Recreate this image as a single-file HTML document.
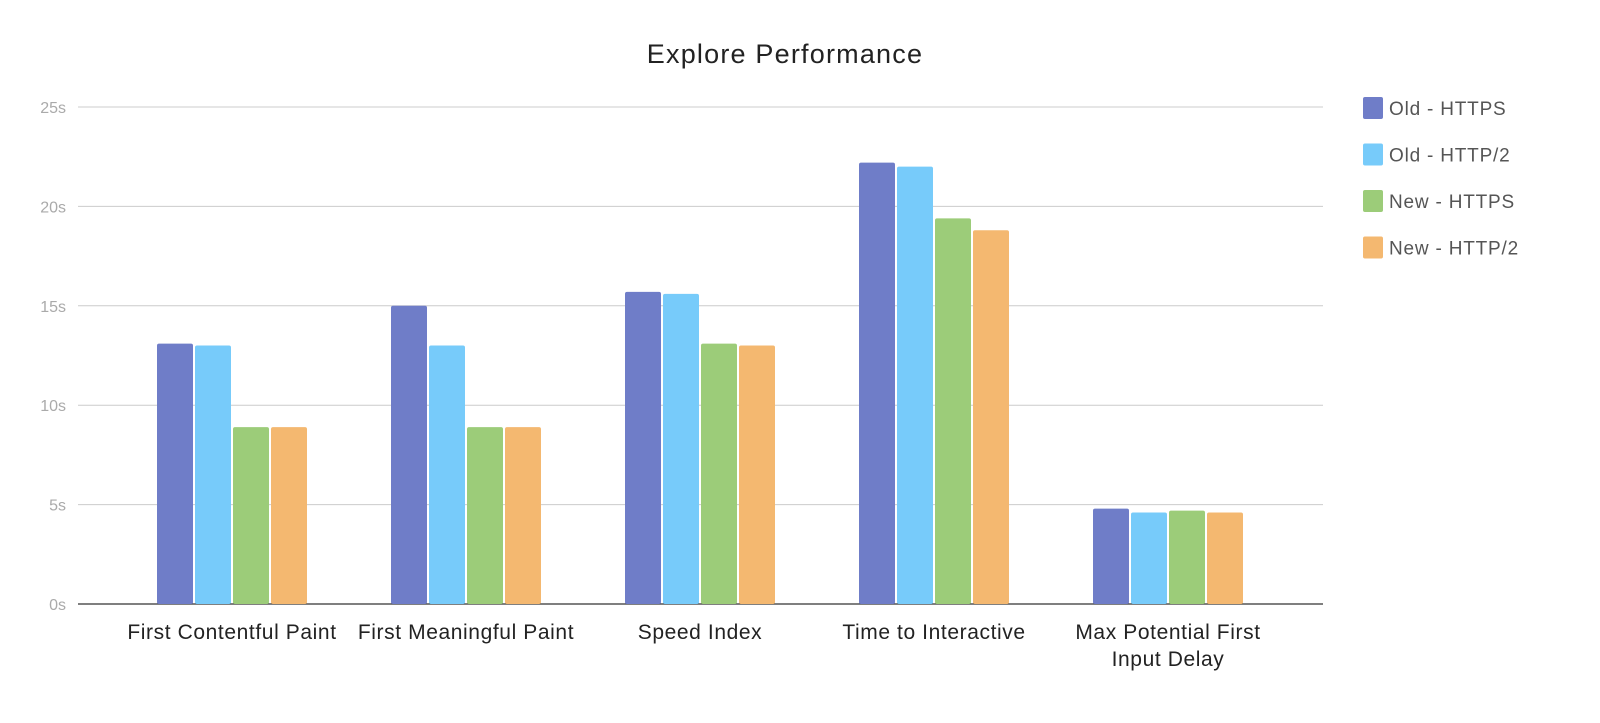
<!DOCTYPE html>
<html><head><meta charset="utf-8"><style>
html,body{margin:0;padding:0;background:#fff;}
svg{display:block;font-family:"Liberation Sans",Arial,sans-serif;}
</style></head><body>
<svg id="chart" width="1600" height="723">
<text x="785" y="63" text-anchor="middle" font-size="27" letter-spacing="1.2" fill="#222">Explore Performance</text>
<g id="grid"></g><g id="bars"></g><g id="xlabels"></g><g id="legend"></g>
</svg>
<script>
const categories=[["First Contentful Paint"],["First Meaningful Paint"],["Speed Index"],["Time to Interactive"],["Max Potential First","Input Delay"]];
const seriesNames=["Old - HTTPS","Old - HTTP/2","New - HTTPS","New - HTTP/2"];
const oldHttps=[13.1,15.0,15.7,22.2,4.8];
const oldHttp2=[13.0,13.0,15.6,22.0,4.6];
const newHttps=[8.9,8.9,13.1,19.4,4.7];
const newHttp2=[8.9,8.9,13.0,18.8,4.6];
const yTicks=[0,5,10,15,20,25];
const series=[oldHttps,oldHttp2,newHttps,newHttp2];
const colors=["#6f7dc8","#77cbfa","#9ccc79","#f4b870"];
const NS="http://www.w3.org/2000/svg";
const y0=604,y25=107,xL=78,xR=1323;
const yScale=v=>y0-(v/25)*(y0-y25);
const gc=i=>232+i*234;
function mk(t,a,p){const e=document.createElementNS(NS,t);for(const k in a)e.setAttribute(k,a[k]);p.appendChild(e);return e;}
const grid=document.getElementById('grid');
yTicks.forEach(v=>{
 const l=mk('line',{x1:xL,x2:xR,y1:yScale(v),y2:yScale(v),stroke:v===0?'#333':'#ccc','stroke-width':v===0?1.3:1},grid);
 
 
 const t=mk('text',{x:66,y:yScale(v)+6,'text-anchor':'end','font-size':16,fill:'#aaa'},grid);
 t.textContent=v+'s';
 
 
});
const bars=document.getElementById('bars');
categories.forEach((c,i)=>{
 series.forEach((s,j)=>{
  const x=gc(i)-75+j*38;
  const r=mk('rect',{x:x,y:yScale(s[i]),width:36,height:y0-yScale(s[i]),fill:colors[j],rx:2},bars);
  
  
 });
 const t=mk('text',{x:gc(i),y:639,'text-anchor':'middle','font-size':21,'letter-spacing':0.6,fill:'#222'},document.getElementById('xlabels'));
 c.forEach((line,k)=>{const ts=mk('tspan',{x:gc(i),dy:k?27:0},t);ts.textContent=line;});
 
 
});
const leg=document.getElementById('legend');
seriesNames.forEach((n,j)=>{
 const y=108+j*46.5;
 const r=mk('rect',{x:1363,y:y-11,width:20,height:22,fill:colors[j],rx:2},leg);
 
 
 const t=mk('text',{x:1389,y:y+7,'font-size':19,'letter-spacing':0.8,fill:'#555'},leg);
 t.textContent=n;
 
 
});
</script>
</body></html>
